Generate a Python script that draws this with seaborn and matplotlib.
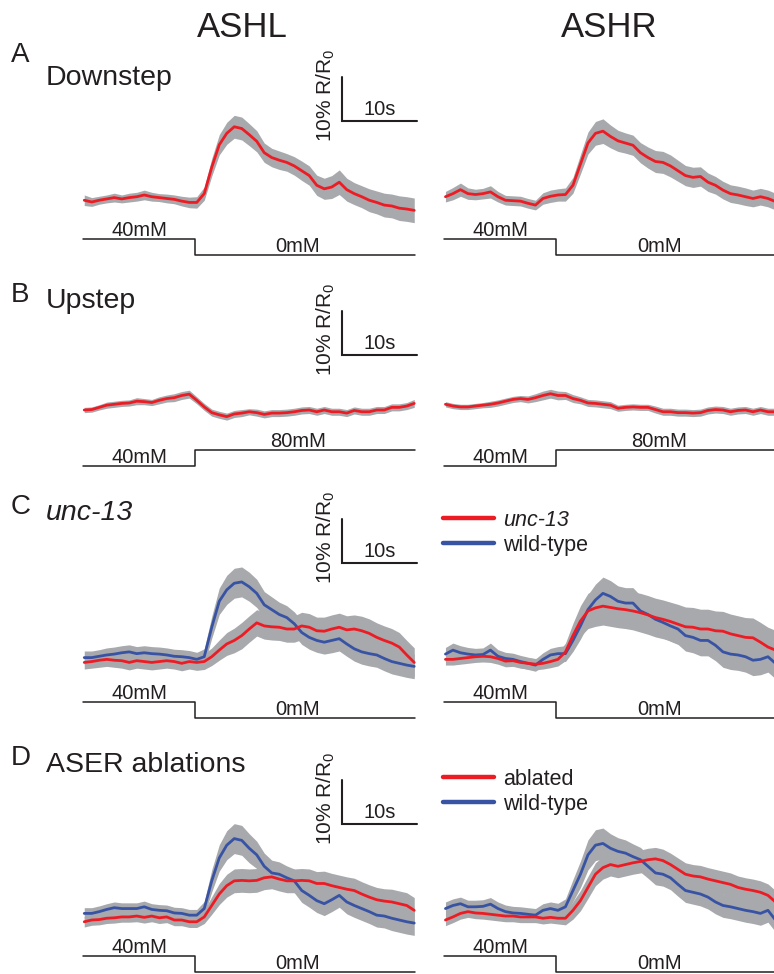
import numpy as np
import matplotlib
matplotlib.use("Agg")
import matplotlib.pyplot as plt
import seaborn as sns
from matplotlib.lines import Line2D

sns.set_style("white")
plt.rcParams['font.family'] = ['Liberation Sans', 'DejaVu Sans']
plt.rcParams['text.color'] = "#231f20"

# ---- data (% R/R0), one sample per second, stimulus switch at t = 0 ----
t = np.arange(-14.7, 29.4, 1.0)

# A  downstep 40 -> 0 mM
ashl_down = [0.4, 0.0, 0.4, 0.7, 1.0, 0.7, 1.0, 1.2, 1.6, 1.2, 1.0, 0.8, 0.6, 0.2, -0.1,
             -0.1, 1.9, 7.9, 13.0, 15.6, 17.1, 16.7, 15.3, 13.8, 11.2, 10.1, 9.5, 9.0, 8.2, 7.1,
             6.0, 3.8, 3.0, 3.4, 4.5, 2.8, 1.9, 1.2, 0.4, -0.1, -0.7, -0.9, -1.4, -1.6, -1.9]
ashl_down_sem = [1.2, 1.0, 0.9, 0.9, 1.0, 0.9, 1.0, 1.0, 1.1, 1.0, 0.9, 1.0, 1.0, 1.1, 1.2,
                 1.3, 1.5, 2.0, 2.3, 2.5, 2.6, 2.6, 2.5, 2.4, 2.2, 2.1, 2.1, 2.0, 2.1, 2.2,
                 2.2, 2.3, 2.4, 2.6, 2.8, 2.6, 2.5, 2.5, 2.6, 2.6, 2.7, 2.7, 2.8, 2.8, 2.8]
ashr_down = [1.2, 1.9, 2.8, 1.9, 1.7, 1.9, 2.3, 1.2, 0.4, 0.3, 0.2, -0.3, -0.7, 0.8, 1.3,
             1.6, 1.7, 3.8, 8.6, 13.4, 15.6, 16.1, 14.9, 13.9, 13.4, 12.9, 11.2, 10.1, 9.2, 9.0,
             8.2, 7.1, 6.0, 5.6, 5.8, 4.5, 3.8, 2.7, 1.9, 1.6, 1.2, 0.8, 1.2, 0.8, 0.1]
ashr_down_sem = [1.2, 1.4, 1.5, 1.3, 1.2, 1.2, 1.4, 1.2, 1.1, 1.1, 1.1, 1.1, 1.1, 1.3, 1.4,
                 1.4, 1.5, 1.8, 2.2, 2.5, 2.7, 2.8, 2.6, 2.4, 2.3, 2.3, 2.3, 2.4, 2.5, 2.5,
                 2.5, 2.4, 2.3, 2.3, 2.2, 2.1, 2.0, 2.0, 2.0, 2.0, 2.0, 1.9, 1.9, 1.9, 1.9]

# B  upstep 40 -> 80 mM
ashl_up = [0.0, 0.1, 0.6, 1.1, 1.3, 1.5, 1.6, 2.0, 1.9, 1.7, 2.2, 2.6, 2.8, 3.3, 3.6,
           2.2, 0.7, -0.6, -1.1, -1.5, -0.9, -0.7, -0.4, -0.6, -1.0, -0.7, -0.7, -0.6, -0.4, -0.1,
           0.0, -0.4, 0.0, -0.4, -0.4, -0.7, -0.1, -0.4, -0.4, 0.0, 0.0, 0.6, 0.6, 0.9, 1.5]
ashl_up_sem = [0.6, 0.6, 0.6, 0.7, 0.7, 0.7, 0.7, 0.8, 0.7, 0.7, 0.8, 0.8, 0.9, 0.9, 0.9,
               0.8, 0.8, 0.8, 0.8, 0.8, 0.8, 0.8, 0.7, 0.8, 0.8, 0.8, 0.8, 0.8, 0.8, 0.8,
               0.8, 0.8, 0.8, 0.8, 0.8, 0.8, 0.8, 0.8, 0.8, 0.8, 0.8, 0.8, 0.8, 0.8, 0.9]
ashr_up = [1.3, 0.9, 0.7, 0.7, 0.9, 1.1, 1.3, 1.6, 2.0, 2.4, 2.6, 2.4, 2.8, 3.3, 3.7,
           3.3, 3.3, 2.6, 2.2, 1.6, 1.5, 1.3, 1.1, 0.4, 0.6, 0.7, 0.6, 0.6, 0.1, -0.4,
           -0.4, -0.6, -0.6, -0.7, -0.6, -0.1, 0.1, 0.0, -0.4, -0.1, 0.0, -0.4, 0.0, -0.4, -0.4]
ashr_up_sem = [0.6, 0.6, 0.6, 0.6, 0.6, 0.6, 0.7, 0.7, 0.7, 0.7, 0.7, 0.8, 0.9, 1.0, 1.0,
               1.0, 0.9, 0.9, 0.8, 0.8, 0.8, 0.8, 0.8, 0.7, 0.7, 0.7, 0.7, 0.7, 0.8, 0.8,
               0.8, 0.8, 0.8, 0.8, 0.8, 0.8, 0.8, 0.8, 0.8, 0.8, 0.8, 0.8, 0.8, 0.8, 0.8]

# C  unc-13 (red) vs wild-type (blue), downstep
ashl_unc = [-0.1, 0.1, 0.4, 0.6, 0.4, 0.3, -0.1, 0.3, 0.1, -0.1, 0.1, 0.3, 0.1, -0.3, 0.1,
            -0.1, 0.1, 1.2, 2.7, 4.1, 4.9, 6.0, 7.5, 8.9, 8.2, 8.0, 7.9, 7.5, 7.5, 8.2,
            7.9, 7.1, 7.0, 7.5, 7.9, 7.3, 7.5, 7.1, 6.5, 5.6, 4.9, 4.3, 3.4, 1.6, -0.1]
ashl_unc_sem = [1.5, 1.5, 1.6, 1.6, 1.6, 1.7, 1.7, 1.7, 1.7, 1.7, 1.7, 1.7, 1.7, 1.7, 1.7,
                1.8, 1.8, 2.0, 2.3, 2.6, 2.8, 3.0, 3.0, 3.0, 3.0, 3.0, 3.0, 3.0, 3.0, 3.1,
                3.1, 3.1, 3.2, 3.2, 3.2, 3.2, 3.2, 3.3, 3.3, 3.3, 3.3, 3.3, 3.3, 3.3, 3.3]
ashl_unc_wt = [1.0, 1.0, 1.3, 1.6, 1.8, 2.1, 2.3, 1.9, 2.1, 1.9, 1.8, 1.6, 1.3, 1.2, 1.0,
               0.6, 1.2, 7.9, 13.8, 16.4, 17.9, 18.2, 17.1, 15.6, 13.0, 11.9, 10.8, 10.1, 8.7, 6.7,
               5.6, 4.9, 4.5, 4.9, 5.3, 4.1, 3.0, 2.3, 1.9, 1.6, 0.8, 0.1, -0.3, -0.7, -1.0]
ashl_unc_wt_sem = [1.5, 1.5, 1.5, 1.6, 1.6, 1.6, 1.6, 1.6, 1.6, 1.6, 1.6, 1.6, 1.6, 1.6, 1.6,
                   1.6, 1.8, 2.5, 3.0, 3.3, 3.4, 3.4, 3.3, 3.2, 3.0, 2.9, 2.8, 2.7, 2.7, 2.7,
                   2.7, 2.7, 2.7, 2.8, 2.8, 2.8, 2.8, 2.8, 2.8, 2.8, 2.8, 2.8, 2.8, 2.8, 2.8]
ashr_unc = [0.6, 0.6, 0.8, 1.0, 1.2, 1.3, 1.2, 0.8, 0.2, 0.3, -0.1, -0.3, -0.5, -0.3, 0.1,
            0.6, 2.3, 6.0, 9.3, 11.6, 12.3, 12.7, 12.4, 12.1, 11.9, 11.6, 11.2, 10.7, 10.1, 9.7,
            9.2, 8.6, 8.0, 7.9, 7.5, 7.5, 7.1, 7.0, 6.4, 6.0, 5.6, 5.5, 4.5, 3.4, 2.7]
ashr_unc_sem = [1.3, 1.3, 1.3, 1.3, 1.3, 1.3, 1.3, 1.3, 1.3, 1.3, 1.3, 1.3, 1.3, 1.3, 1.4,
                1.5, 2.0, 2.8, 3.5, 4.0, 4.2, 4.3, 4.3, 4.3, 4.3, 4.3, 4.4, 4.4, 4.4, 4.4,
                4.4, 4.5, 4.5, 4.5, 4.5, 4.5, 4.5, 4.5, 4.5, 4.5, 4.5, 4.5, 4.5, 4.5, 4.5]
ashr_unc_wt = [1.8, 2.7, 2.1, 1.8, 1.6, 1.7, 2.7, 1.3, 0.8, 0.6, 0.1, -0.3, -0.7, 0.6, 1.6,
               1.9, 1.9, 4.9, 8.2, 11.9, 14.1, 15.6, 14.9, 13.8, 13.4, 13.4, 11.6, 10.8, 9.7, 9.0,
               8.2, 7.5, 6.0, 5.6, 4.9, 4.9, 3.8, 2.3, 1.8, 1.6, 1.2, 0.4, 0.6, 1.2, -0.3]
ashr_unc_wt_sem = [1.5, 1.6, 1.6, 1.5, 1.5, 1.5, 1.6, 1.5, 1.4, 1.4, 1.4, 1.4, 1.4, 1.5, 1.5,
                   1.6, 1.8, 2.5, 3.0, 3.4, 3.6, 3.7, 3.6, 3.5, 3.5, 3.5, 3.5, 3.5, 3.5, 3.5,
                   3.5, 3.5, 3.5, 3.5, 3.5, 3.5, 3.5, 3.5, 3.5, 3.5, 3.5, 3.5, 3.5, 3.5, 3.5]

# D  ASER ablated (red) vs wild-type (blue), downstep
ashl_abl = [-0.4, 0.0, 0.1, 0.4, 0.5, 0.7, 0.7, 0.9, 0.6, 0.9, 0.5, 0.7, 0.0, 0.0, -0.4,
            -0.4, 0.7, 3.3, 5.9, 7.8, 8.9, 9.0, 8.9, 9.0, 9.6, 9.8, 9.3, 8.9, 8.9, 9.0,
            8.9, 8.3, 8.3, 7.8, 7.4, 7.0, 6.7, 5.9, 5.2, 4.6, 4.3, 4.1, 3.7, 3.3, 2.2]
ashl_abl_sem = [1.2, 1.2, 1.2, 1.2, 1.2, 1.2, 1.2, 1.3, 1.3, 1.3, 1.3, 1.3, 1.3, 1.3, 1.3,
                1.3, 1.5, 2.0, 2.4, 2.6, 2.7, 2.7, 2.7, 2.7, 2.7, 2.7, 2.7, 2.7, 2.7, 2.7,
                2.7, 2.7, 2.8, 2.8, 2.8, 2.8, 2.8, 2.8, 2.8, 2.8, 2.8, 2.9, 2.9, 2.9, 2.9]
ashl_abl_wt = [1.5, 1.5, 1.9, 2.4, 2.8, 2.6, 2.6, 2.6, 3.0, 2.4, 2.2, 2.1, 1.6, 1.5, 1.1,
               1.1, 2.6, 8.9, 14.1, 17.0, 18.5, 18.1, 16.3, 14.8, 12.2, 10.7, 10.4, 9.6, 8.9, 6.7,
               5.6, 4.4, 3.7, 4.6, 5.6, 4.1, 3.3, 2.6, 1.9, 1.1, 0.9, 0.4, 0.0, -0.4, -0.7]
ashl_abl_wt_sem = [1.3, 1.3, 1.3, 1.3, 1.3, 1.3, 1.3, 1.3, 1.3, 1.3, 1.3, 1.3, 1.3, 1.3, 1.3,
                   1.3, 1.6, 2.5, 3.0, 3.3, 3.4, 3.4, 3.3, 3.1, 3.0, 2.9, 2.8, 2.7, 2.7, 2.7,
                   2.7, 2.7, 2.7, 2.7, 2.7, 2.7, 2.7, 2.7, 2.7, 2.7, 2.7, 2.8, 2.8, 2.8, 2.8]
ashr_abl = [0.0, 0.7, 1.5, 1.9, 1.6, 1.5, 1.3, 1.1, 0.9, 0.9, 0.7, 0.7, 0.7, 0.4, 0.6,
            0.4, 0.4, 2.2, 4.4, 7.4, 10.4, 11.9, 12.6, 12.2, 12.6, 13.0, 13.3, 13.7, 13.9, 13.5,
            12.6, 11.5, 10.4, 10.0, 9.8, 9.3, 8.9, 8.5, 8.1, 7.4, 7.0, 6.7, 6.3, 5.6, 4.1]
ashr_abl_sem = [1.3, 1.3, 1.3, 1.3, 1.3, 1.3, 1.3, 1.3, 1.3, 1.3, 1.3, 1.3, 1.3, 1.3, 1.3,
                1.3, 1.5, 2.0, 2.3, 2.5, 2.6, 2.6, 2.6, 2.6, 2.6, 2.6, 2.6, 2.6, 2.6, 2.6,
                2.6, 2.6, 2.6, 2.6, 2.6, 2.6, 2.6, 2.6, 2.6, 2.6, 2.6, 2.6, 2.6, 2.6, 2.6]
ashr_abl_wt = [2.6, 3.3, 3.7, 3.0, 3.0, 3.1, 3.6, 2.6, 1.9, 1.6, 1.5, 1.3, 1.1, 2.2, 2.6,
               2.2, 3.0, 6.7, 10.4, 14.8, 17.0, 17.4, 16.3, 15.6, 15.2, 14.4, 13.7, 12.2, 10.7, 10.4,
               9.6, 8.1, 6.7, 6.3, 5.9, 5.2, 4.1, 3.3, 3.0, 2.6, 2.2, 1.9, 1.5, 2.2, 0.0]
ashr_abl_wt_sem = [1.5, 1.5, 1.5, 1.5, 1.5, 1.5, 1.5, 1.5, 1.5, 1.5, 1.5, 1.5, 1.5, 1.5, 1.5,
                   1.6, 1.8, 2.5, 3.0, 3.4, 3.5, 3.5, 3.3, 3.1, 3.0, 2.9, 2.8, 2.7, 2.7, 2.7,
                   2.7, 2.7, 2.7, 2.7, 2.7, 2.7, 2.7, 2.7, 2.7, 2.7, 2.7, 2.7, 2.7, 2.7, 2.7]

# stimulus protocol (mM before / after the switch)
stim_before = [40, 40, 40, 40]
stim_after = [0, 80, 0, 0]
stim_times = [-14.85, 0.0, 29.4]

row_titles = ["Downstep", "Upstep", "unc-13", "ASER ablations"]
row_letters = ["A", "B", "C", "D"]
legend_labels = [None, None, ["unc-13", "wild-type"], ["ablated", "wild-type"]]

RED = "#ed1c24"
BLUE = "#3853a4"
GREY = "#a7a9ac"
INK = "#231f20"

# ---- layout (pixels) ----
W, H = 774, 974
PX_S = 7.5      # px per second
PX_PCT = 4.4    # px per % R/R0
XLIM = (-15.5, 30.5)
YLIM = (-17.0, 35.0)
row_y0 = [202, 410, 662, 920]       # pixel row of 0 %
stim_low = [53, 56, 56, 52]         # lower stimulus level below 0 %
bar_px = [81, 55, 99, 96]           # scale bar corner above 0 %
title_base = [(62, 85), (302, 308), (514, 520), (765, 772)]
legend_top = [None, None, 510, 769]
col_zero = [194.5, 555.7]           # pixel column of t = 0

fig = plt.figure(figsize=(W / 100, H / 100), dpi=100)


def add_panel(x_zero, y_zero):
    x0 = x_zero + XLIM[0] * PX_S
    x1 = x_zero + XLIM[1] * PX_S
    ytop = y_zero - YLIM[1] * PX_PCT
    ybot = y_zero - YLIM[0] * PX_PCT
    ax = fig.add_axes([x0 / W, 1 - ybot / H, (x1 - x0) / W, (ybot - ytop) / H])
    ax.set_xlim(*XLIM)
    ax.set_ylim(*YLIM)
    ax.axis("off")
    ax.patch.set_alpha(0)
    return ax


def stim_level(c, cmin, low):
    return (-low + (c - cmin) * 0.4) / PX_PCT


traces = [
    [[(ashl_down, ashl_down_sem, RED)], [(ashr_down, ashr_down_sem, RED)]],
    [[(ashl_up, ashl_up_sem, RED)], [(ashr_up, ashr_up_sem, RED)]],
    [[(ashl_unc_wt, ashl_unc_wt_sem, BLUE), (ashl_unc, ashl_unc_sem, RED)],
     [(ashr_unc_wt, ashr_unc_wt_sem, BLUE), (ashr_unc, ashr_unc_sem, RED)]],
    [[(ashl_abl_wt, ashl_abl_wt_sem, BLUE), (ashl_abl, ashl_abl_sem, RED)],
     [(ashr_abl_wt, ashr_abl_wt_sem, BLUE), (ashr_abl, ashr_abl_sem, RED)]],
]

for r in range(4):
    cmin = min(stim_before[r], stim_after[r])
    yb = stim_level(stim_before[r], cmin, stim_low[r])
    ya = stim_level(stim_after[r], cmin, stim_low[r])
    for c in range(2):
        ax = add_panel(col_zero[c], row_y0[r])
        for mean, sem, col in traces[r][c]:
            mean, sem = np.array(mean), np.array(sem)
            ax.fill_between(t, mean - sem, mean + sem, color=GREY, lw=0, zorder=1)
        for mean, sem, col in traces[r][c]:
            sns.lineplot(x=t, y=np.array(mean), ax=ax, color=col, lw=2.0, zorder=3)

        # stimulus trace
        ax.plot([stim_times[0], stim_times[1], stim_times[1], stim_times[2]],
                [yb, yb, ya, ya], color=INK, lw=1.1, clip_on=False)
        ax.annotate(f"{stim_before[r]}mM", xy=(-7.4, yb), xytext=(0, 2.2),
                    textcoords="offset points", ha="center", va="baseline", fontsize=14.5)
        ax.annotate(f"{stim_after[r]}mM", xy=(13.8, ya), xytext=(0, 2.2),
                    textcoords="offset points", ha="center", va="baseline", fontsize=14.5)

        if c == 0:
            # scale bar: 10 % R/R0 and 10 s
            bx = 19.67
            by = bar_px[r] / PX_PCT
            ax.plot([bx, bx, bx + 10], [by + 10, by, by], color=INK, lw=1.5,
                    clip_on=False, solid_joinstyle="miter")
            ax.annotate("10s", xy=(bx + 5, by), xytext=(0, 4.3), textcoords="offset points",
                        ha="center", va="baseline", fontsize=14.5)
            ax.annotate("10% R/R$\\mathregular{_0}$", xy=(bx, by + 5), xytext=(-3.5, 2.5),
                        textcoords="offset points", ha="right", va="center",
                        rotation=90, fontsize=15)
        elif legend_labels[r] is not None:
            handles = [Line2D([], [], color=RED, lw=3.2), Line2D([], [], color=BLUE, lw=3.2)]
            leg = ax.legend(handles, legend_labels[r], loc="upper left",
                            bbox_to_anchor=(443 / W, 1 - legend_top[r] / H),
                            bbox_transform=fig.transFigure, frameon=False, fontsize=15.5,
                            handlelength=2.35, handletextpad=0.42, labelspacing=0.18,
                            borderpad=0, borderaxespad=0)
            if r == 2:
                leg.get_texts()[0].set_fontstyle("italic")

    # row letter and title
    lb, tb = title_base[r]
    fig.text(11 / W, 1 - lb / H, row_letters[r], fontsize=20, va="baseline", ha="left")
    fig.text(46 / W, 1 - tb / H, row_titles[r], fontsize=20.5, va="baseline", ha="left",
             style="italic" if r == 2 else "normal")

fig.text(242 / W, 1 - 36.7 / H, "ASHL", fontsize=25, ha="center", va="baseline")
fig.text(609 / W, 1 - 36.7 / H, "ASHR", fontsize=25, ha="center", va="baseline")

fig.savefig("out.png", dpi=100)
